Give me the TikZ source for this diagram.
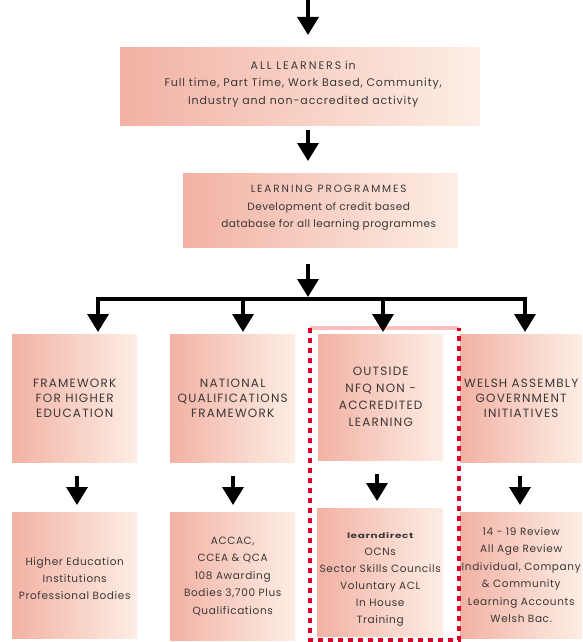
\documentclass[tikz,border=0pt]{standalone}
\usepackage{fontspec}
\usepackage{graphicx}
\setmainfont{Poppins}
\newfontfamily\lsA[LetterSpace=8]{Poppins}
\newfontfamily\lsB[LetterSpace=4]{Poppins}
\newfontfamily\lsC[LetterSpace=18]{Poppins}
\newfontfamily\lsM[LetterSpace=10]{Poppins}
\newfontfamily\lsL[LetterSpace=6]{Poppins}
\usetikzlibrary{arrows.meta}
\definecolor{boxL}{RGB}{242,178,164}
\definecolor{boxR}{RGB}{253,238,229}
\definecolor{txt}{RGB}{60,55,55}
\definecolor{dashred}{RGB}{222,0,40}
\definecolor{dashpink}{RGB}{250,190,190}
\begin{document}
\begin{tikzpicture}[x=1pt,y=-1pt,
  pbox/.style={shading=axis,left color=boxL,right color=boxR,draw=none,
    inner sep=0pt,align=center,text=txt,anchor=north west},
  lbl/.style={inner sep=0pt,align=center,text=txt},
  arr/.style={line width=3.5pt,-{Triangle[width=21pt,length=18pt]}},
  topfont/.style={font=\lsA\fontsize{11}{17.5}\selectfont},
  progfont/.style={font=\lsB\fontsize{10.5}{17.5}\selectfont},
  capsbox/.style={font=\lsM\fontsize{12}{15}\selectfont},
  lowbox/.style={font=\lsL\fontsize{10.5}{17.5}\selectfont}]
\useasboundingbox (0,0) rectangle (582,642);
% top level
\node[pbox,minimum width=360pt,minimum height=78pt,
  label={[lbl,topfont,xshift=3pt,yshift=2pt]center:{{\lsC ALL LEARNERS} in\\Full time, Part Time, Work Based, Community,\\Industry and non-accredited activity}}] (top) at (120,47) {};
\node[pbox,minimum width=275pt,minimum height=74pt,
  label={[lbl,progfont,xshift=8pt,yshift=2pt]center:{{\lsC LEARNING PROGRAMMES}\\Development of credit based\\database for all learning programmes}}] (prog) at (183,173) {};
% middle level
\node[pbox,capsbox,minimum width=125pt,minimum height=128pt] (m1) at (12,334)
  {FRAMEWORK\\FOR HIGHER\\EDUCATION};
\node[pbox,capsbox,minimum width=125pt,minimum height=128pt] (m2) at (170,334)
  {NATIONAL\\QUALIFICATIONS\\FRAMEWORK};
\node[pbox,minimum width=125pt,minimum height=126pt,
  font=\lsM\fontsize{12}{17}\selectfont] (m3) at (318,334)
  {OUTSIDE\\NFQ NON -\\ACCREDITED\\LEARNING};
\node[pbox,capsbox,minimum width=122pt,minimum height=128pt] (m4) at (460,334)
  {WELSH ASSEMBLY\\GOVERNMENT\\INITIATIVES};
% bottom level
\node[pbox,minimum width=125pt,minimum height=126pt,
  font=\lsL\fontsize{10.5}{17}\selectfont] (b1) at (12,512)
  {\rule{0pt}{14pt}Higher Education\\Institutions\\Professional Bodies};
\node[pbox,lowbox,minimum width=125pt,minimum height=128pt] (b2) at (170,512)
  {ACCAC,\\CCEA \& QCA\\108 Awarding\\Bodies 3,700 Plus\\Qualifications};
\node[pbox,minimum width=126pt,minimum height=128pt,
  font=\lsL\fontsize{10.5}{17}\selectfont] (b3) at (317,508)
  {\rule{0pt}{20pt}\scalebox{1}[0.72]{\bfseries learndirect}\\OCNs\\Sector Skills Councils\\Voluntary ACL\\In House\\Training};
\node[pbox,lowbox,minimum width=122pt,minimum height=126pt] (b4) at (460,512)
  {14 - 19 Review\\All Age Review\\Individual, Company\\\& Community\\Learning Accounts\\Welsh Bac.};
% red dashed frame
\coordinate (rtl) at (310,328);
\coordinate (rbr) at (459,640);
\draw[dashpink,line width=4pt] (rtl) -- (rtl -| rbr);
\draw[dashred,line width=4pt,dash pattern=on 5pt off 5pt]
  (rtl) -- (rtl |- rbr) -- (rbr) -- (rbr |- rtl);
% arrows
\coordinate (c0) at (308,0);
\coordinate (bar) at (308,299);
\coordinate (bl) at (98,299);
\coordinate (br) at (525,299);
\draw[arr,shorten >=12pt] (c0) -- (c0 |- top.north);
\draw[arr,shorten <=5pt,shorten >=12pt] (c0 |- top.south) -- (c0 |- prog.north);
\draw[arr,shorten <=17pt,shorten >=2pt] (c0 |- prog.south) -- (bar);
\draw[line width=3.5pt,line cap=rect] (bl) -- (br);
\coordinate (d1) at (98,299);
\coordinate (d2) at (243,299);
\coordinate (d3) at (383,299);
\coordinate (d4) at (525,299);
\foreach \d/\m in {d1/m1,d2/m2,d3/m3,d4/m4}
  \draw[arr,shorten >=2pt] (\d) -- (\d |- \m.north);
\coordinate (e1) at (77,0);
\coordinate (e2) at (233,0);
\coordinate (e3) at (377,0);
\coordinate (e4) at (520,0);
\foreach \e/\m/\b in {e1/m1/b1,e2/m2/b2,e3/m3/b3,e4/m4/b4}
  \draw[arr,shorten <=14pt,shorten >=7pt] (\e |- \m.south) -- (\e |- \b.north);
\end{tikzpicture}
\end{document}
